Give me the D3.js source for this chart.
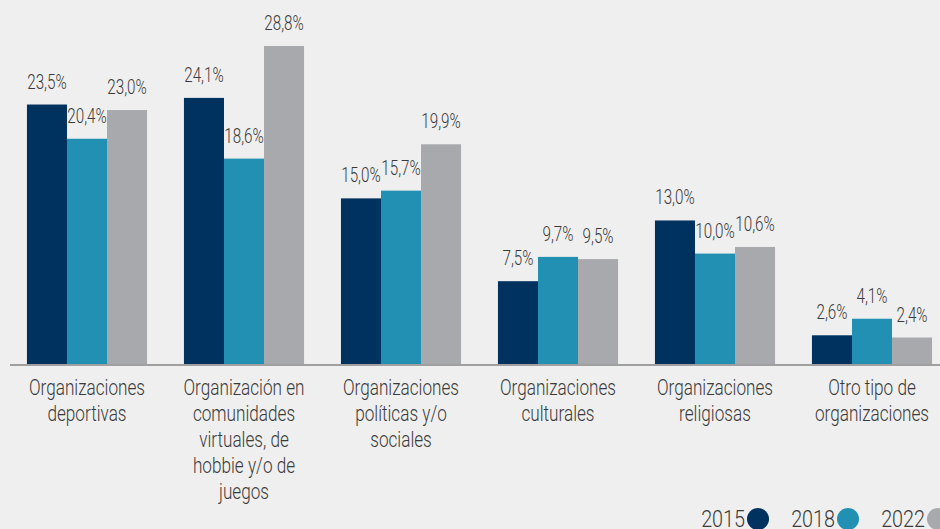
<!DOCTYPE html>
<html>
<head>
<meta charset="utf-8">
<script src="https://cdn.jsdelivr.net/npm/d3@7"></script>
<style>
  html, body { margin: 0; padding: 0; background: #efefef; }
  svg { display: block; }
  text { font-family: "Roboto", "Liberation Sans", sans-serif; font-weight: 300; fill: #3a3a3a; }
</style>
</head>
<body>
<div id="chart"></div>
<script>
// categories, each split in the lines shown under the axis
const categories = [
  "Organizaciones deportivas",
  "Organización en comunidades virtuales, de hobbie y/o de juegos",
  "Organizaciones políticas y/o sociales",
  "Organizaciones culturales",
  "Organizaciones religiosas",
  "Otro tipo de organizaciones"
];
const categoryLines = [
  ["Organizaciones", "deportivas"],
  ["Organización en", "comunidades", "virtuales, de", "hobbie y/o de", "juegos"],
  ["Organizaciones", "políticas y/o", "sociales"],
  ["Organizaciones", "culturales"],
  ["Organizaciones", "religiosas"],
  ["Otro tipo de", "organizaciones"]
];
const years = ["2015", "2018", "2022"];
const values2015 = [23.5, 24.1, 15.0, 7.5, 13.0, 2.6];
const values2018 = [20.4, 18.6, 15.7, 9.7, 10.0, 4.1];
const values2022 = [23.0, 28.8, 19.9, 9.5, 10.6, 2.4];
const colors = ["#00325f", "#2190b3", "#a8a9ac"];

const width = 940, height = 529;
const baseline = 364;
const narrow = 0.78; // the original font is condensed

const series = [values2015, values2018, values2022];
const data = categories.map((c, i) => ({
  cat: c,
  vals: years.map((y, j) => ({ year: y, value: series[j][i] }))
}));

const loc = d3.formatLocale({ decimal: ",", thousands: ".", grouping: [3], currency: ["", ""] });
const fmt = v => loc.format(".1f")(v) + "%";

const svg = d3.select("#chart")
  .append("svg")
  .attr("width", width)
  .attr("height", height);

const x0 = d3.scaleBand()
  .domain(categories)
  .range([8.5, 950.5])
  .paddingInner(0.235)
  .paddingOuter(0.1175);

const x1 = d3.scaleBand()
  .domain(years)
  .range([0, x0.bandwidth()]);

const y = d3.scaleLinear()
  .domain([0, 28.8])
  .range([baseline, 46]);

const groups = svg.append("g")
  .selectAll("g")
  .data(data)
  .join("g")
  .attr("transform", d => `translate(${x0(d.cat)},0)`);

groups.selectAll("rect")
  .data(d => d.vals)
  .join("rect")
  .attr("x", d => x1(d.year))
  .attr("y", d => y(d.value))
  .attr("width", x1.bandwidth())
  .attr("height", d => baseline - y(d.value))
  .attr("fill", (d, i) => colors[i]);

groups.selectAll("text.val")
  .data(d => d.vals)
  .join("text")
  .attr("class", "val")
  .attr("transform", d => `translate(${x1(d.year) + x1.bandwidth() / 2},${y(d.value) - 16}) scale(0.76,1)`)
  .attr("text-anchor", "middle")
  .attr("font-size", 20)
  .text(d => fmt(d.value));

// axis line
svg.append("line")
  .attr("x1", 10)
  .attr("x2", width)
  .attr("y1", baseline + 1)
  .attr("y2", baseline + 1)
  .attr("stroke", "#a0a0a0")
  .attr("stroke-width", 2);

// category labels
svg.append("g")
  .attr("font-size", 22)
  .attr("text-anchor", "middle")
  .selectAll("text")
  .data(categories)
  .join("text")
  .attr("transform", d => `translate(${x0(d) + x0.bandwidth() / 2},${baseline + 31}) scale(${narrow},1)`)
  .selectAll("tspan")
  .data((d, i) => categoryLines[i])
  .join("tspan")
  .attr("x", 0)
  .attr("y", (d, i) => i * 26)
  .text(d => d);

// legend
const legend = svg.append("g")
  .selectAll("g")
  .data(years)
  .join("g")
  .attr("transform", (d, i) => `translate(${745 + i * 90},0)`);

legend.append("text")
  .attr("transform", "translate(0,527) scale(0.86,1)")
  .attr("text-anchor", "end")
  .attr("font-size", 23)
  .text(d => d);

legend.append("circle")
  .attr("cx", 13)
  .attr("cy", 519)
  .attr("r", 11)
  .attr("fill", (d, i) => colors[i]);
</script>
</body>
</html>
